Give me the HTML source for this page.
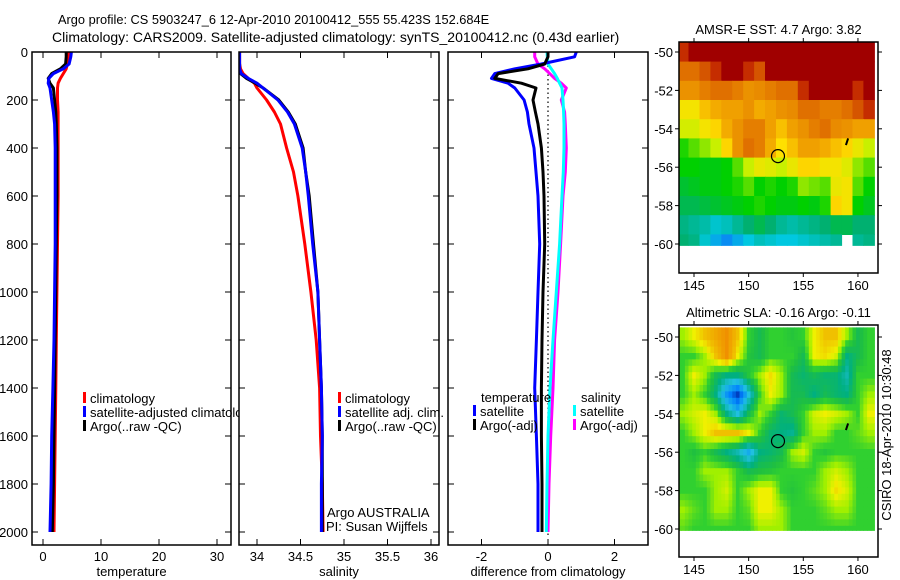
<!DOCTYPE html>
<html><head><meta charset="utf-8"><style>
html,body{margin:0;padding:0;background:#fff;}
svg{display:block;font-family:"Liberation Sans",sans-serif;}
</style></head><body>
<svg id="fig" width="900" height="580" viewBox="0 0 900 580">
<text x="58" y="24" font-size="12.8">Argo profile: CS 5903247_6 12-Apr-2010 20100412_555 55.423S 152.684E</text>
<text x="52" y="42" font-size="14">Climatology: CARS2009. Satellite-adjusted climatology: synTS_20100412.nc (0.43d earlier)</text>
<text transform="translate(891,435) rotate(-90)" font-size="13" text-anchor="middle">CSIRO 18-Apr-2010 10:30:48</text>
</svg>
<script>
// ---------- data ----------
const depths = [0,20,50,70,90,110,130,150,200,250,300,400,500,600,800,1000,1200,1400,1600,1800,2000];
const tempArgo = [4.0,4.0,3.9,3.0,1.5,0.9,1.2,1.8,2.0,2.2,2.3,2.4,2.4,2.4,2.3,2.2,2.1,2.0,1.9,1.8,1.6];
const tempSat  = [4.9,4.8,4.5,3.5,1.8,1.0,0.9,1.2,1.5,1.8,2.0,2.1,2.1,2.1,2.1,2.0,1.9,1.7,1.5,1.4,1.2];
const tempClim = [4.5,4.4,4.2,4.0,3.5,3.0,2.6,2.5,2.5,2.6,2.6,2.6,2.6,2.6,2.5,2.4,2.3,2.2,2.1,2.0,1.9];
const salArgo = [33.79,33.79,33.8,33.8,33.81,33.88,33.98,34.07,34.25,34.36,34.44,34.53,34.56,34.6,34.65,34.7,34.72,34.74,34.75,34.75,34.75];
const salSat  = [33.8,33.8,33.8,33.8,33.82,33.9,34.0,34.07,34.24,34.35,34.43,34.52,34.56,34.59,34.64,34.7,34.72,34.74,34.75,34.74,34.74];
const salClim = [33.8,33.8,33.8,33.81,33.84,33.9,33.97,34.0,34.11,34.2,34.27,34.34,34.42,34.47,34.55,34.62,34.68,34.72,34.73,34.75,34.76];
const dTempSat  = [0.85,0.8,-0.2,-1.0,-1.6,-1.7,-1.2,-1.0,-0.72,-0.62,-0.57,-0.42,-0.36,-0.3,-0.25,-0.3,-0.35,-0.4,-0.35,-0.3,-0.3];
const dTempArgo = [0.0,0.0,-0.1,-0.6,-1.5,-1.6,-0.8,-0.36,-0.45,-0.38,-0.3,-0.2,-0.15,-0.12,-0.1,-0.15,-0.18,-0.2,-0.2,-0.18,-0.18];
const dSalSat  = [-0.03,-0.02,0.0,0.1,0.2,0.28,0.35,0.42,0.45,0.47,0.48,0.48,0.46,0.42,0.35,0.25,0.15,0.06,0.0,-0.03,-0.05];
const dSalArgo = [-0.4,-0.4,-0.3,-0.1,0.05,0.2,0.4,0.55,0.4,0.5,0.52,0.55,0.52,0.45,0.38,0.3,0.2,0.15,0.08,0.03,0.0];
const tempTicks = [0,10,20,30];
const salTicks = [34,34.5,35,35.5,36];
const diffTicks = [-2,0,2];
const depthTicks = [0,200,400,600,800,1000,1200,1400,1600,1800,2000];
const lonTicks = [145,150,155,160];
const latTicks = [-50,-52,-54,-56,-58,-60];
const mapLons = [144,145,146,147,148,149,150,151,152,153,154,155,156,157,158,159,160,161];
const mapLats = [-50,-51,-52,-53,-54,-55,-56,-57,-58,-59,-60];
const sst = [
[6.5,7,7,7,7,7,7,7,7,7,7,7,7,7,7,7,7,7],
[6,6,6.2,6.5,7,7,6.5,6.2,7,7,7,7,7,7,7,7,7,7],
[5.5,5.5,5.8,6,6,5.8,5.5,5.6,5.8,6,6,6.5,7,7,7,7,6.5,7],
[4.6,4.6,5,5.2,5.3,5.3,5.5,5.2,5.3,5.5,5.6,6,6,5.8,5.8,6,6.2,6.5],
[4.3,4.3,4.6,4.8,5.2,5.5,5.8,5.8,5.3,5,5.3,5.5,5.8,6,5.6,5.5,5.3,5.3],
[3.6,3.8,4,4.2,4.8,5.5,6,5.8,5.2,4.7,5,5.3,5.3,5.2,5,4.8,4.5,4.2],
[3.5,3.5,3.4,3.4,3.5,3.8,4.2,4.5,4.4,4.2,4.5,4.8,4.8,4.6,4.6,4.4,4,3.8],
[3.2,3.3,3.4,3.4,3.5,3.6,3.8,3.5,3.6,3.5,3.6,4,3.9,3.8,4.5,4.6,3.8,3.5],
[3,3,3.1,3.2,3.3,3.4,3.5,3.6,3.5,3.4,3.4,3.5,3.4,3.6,4.8,4.6,3.5,3.3],
[2.7,2.6,2.5,2.3,2.4,2.6,2.8,3,2.8,2.6,2.5,2.6,2.7,2.8,3,3,2.8,2.8],
[2.8,2.7,2.3,2,1.8,2,2.2,2.4,2.3,2.2,2.2,2.3,2.4,2.5,2.6,null,2.6,2.7]];
const sla = [
[0.05,0.1,0.15,0.2,0.25,0.15,0,-0.05,0,0,-0.02,0,0.1,0.15,0.15,0.05,-0.05,0],
[0,0,0.05,0.15,0.25,0.1,-0.02,-0.05,0,0,0,-0.05,0.1,0.12,0.08,-0.1,-0.05,0],
[0,0.1,0.05,-0.05,-0.1,-0.1,-0.02,0.05,0.12,0.05,-0.05,-0.08,-0.05,-0.08,-0.08,-0.15,0,0],
[0,0.05,0,-0.1,-0.3,-0.45,-0.2,0,0.1,0.05,-0.05,-0.05,-0.1,-0.05,-0.08,-0.1,0,0.05],
[0.05,0.08,0.1,0.05,-0.1,-0.2,-0.05,0.05,0,-0.08,-0.05,0,0.08,0.1,0.08,0.05,0,0.1],
[0,0.05,0.1,0.15,0.15,0.15,0.1,0,-0.08,-0.1,-0.12,0,0.05,0.05,0,0,0.02,0.05],
[0,-0.03,0,-0.05,-0.1,-0.15,-0.25,-0.1,-0.08,-0.05,0.05,0.08,0,-0.02,0,0,0,0],
[0,0,0.05,0.05,0.05,0,-0.05,-0.03,-0.02,0,0,0,0,0.05,0.08,0.05,0,0],
[0,0,0,0.05,0.08,0,0.05,0.1,0.1,0,-0.02,0,0.02,0.05,0.12,0.08,0,0],
[0.05,0.02,0,0.05,0.05,0,0.02,0.1,0.1,0.05,0,0,0,0.02,0.05,0.05,0,0],
[0.02,0,0,0,0,0,0,0.05,0.05,0.05,0,0,0,0,0,0,0,0]];
const argoLon = 152.684, argoLat = -55.423;

// ---------- helpers ----------
const NS = "http://www.w3.org/2000/svg";
const svg = document.getElementById('fig');
function mk(tag, attrs, parent){ const e=document.createElementNS(NS,tag); for(const k in attrs) e.setAttribute(k,attrs[k]); (parent||svg).appendChild(e); return e; }
function txt(x,y,s,attrs,parent){ const t=mk('text',Object.assign({x:x,y:y,'font-size':13},attrs||{}),parent); t.textContent=s; return t; }
const yD = d => 52 + d*0.24;
const PTOP=52, PBOT=545;

function panel(name, x0, x1){
  const g = mk('g',{});
  
  
  mk('rect',{x:x0,y:PTOP,width:x1-x0,height:PBOT-PTOP,fill:'#fff',stroke:'none'},g);
  return g;
}
function frame(g,x0,x1,xfn,ticks,fmt,xlabel,showY){
  mk('rect',{x:x0,y:PTOP,width:x1-x0,height:PBOT-PTOP,fill:'none',stroke:'#000','stroke-width':1.5},g);
  ticks.forEach(v=>{
    const x=xfn(v);
    mk('line',{x1:x,y1:PBOT,x2:x,y2:PBOT-6,stroke:'#000'},g);
    mk('line',{x1:x,y1:PTOP,x2:x,y2:PTOP+6,stroke:'#000'},g);
    const t=txt(x,561,fmt(v),{'text-anchor':'middle'},g);
    
    
  });
  depthTicks.forEach(d=>{
    mk('line',{x1:x0,y1:yD(d),x2:x0+6,y2:yD(d),stroke:'#000'},g);
    mk('line',{x1:x1,y1:yD(d),x2:x1-6,y2:yD(d),stroke:'#000'},g);
    if(showY){ const t=txt(x0-4,yD(d)+5,String(d),{'text-anchor':'end'},g);
      
       }
  });
  const xl=txt((x0+x1)/2,576,xlabel,{'text-anchor':'middle'},g);
  
  
}
function prof(g, vals, xfn, color, name, clipId){
  const pts = vals.map((v,i)=>xfn(v).toFixed(1)+','+yD(depths[i]).toFixed(1)).join(' ');
  const p=mk('polyline',{points:pts,fill:'none',stroke:color,'stroke-width':3,'stroke-linejoin':'round','clip-path':'url(#'+clipId+')'},g);
  
  
}
function legend(g,x,y,color,label){
  mk('rect',{x:x,y:y-11,width:3,height:11,fill:color},g);
  const t=txt(x+7,y,label,{},g);
  
  
}
const defs = mk('defs',{});
function clip(id,x0,x1){ const c=mk('clipPath',{id:id},defs); mk('rect',{x:x0,y:PTOP,width:x1-x0,height:PBOT-PTOP},c); }

// ---------- temperature panel ----------
const xT = v => 43 + v*5.8;
clip('c1',32,231);
const g1 = panel('temperature-panel',32,231);
prof(g1,tempClim,xT,'#f00','temp-climatology-line','c1');
prof(g1,tempArgo,xT,'#000','temp-argo-line','c1');
prof(g1,tempSat,xT,'#00f','temp-satellite-line','c1');
legend(g1,83,403,'#f00','climatology');
legend(g1,83,417,'#00f','satellite-adjusted climatology');
legend(g1,83,431,'#000','Argo(..raw -QC)');
frame(g1,32,231,xT,tempTicks,v=>String(v),'temperature',true);

// ---------- salinity panel ----------
const xS = v => 257 + (v-34)*87;
clip('c2',239,439);
const g2 = panel('salinity-panel',239,439);
prof(g2,salClim,xS,'#f00','sal-climatology-line','c2');
prof(g2,salArgo,xS,'#000','sal-argo-line','c2');
prof(g2,salSat,xS,'#00f','sal-satellite-line','c2');
legend(g2,338,403,'#f00','climatology');
legend(g2,338,417,'#00f','satellite adj. clim.');
legend(g2,338,431,'#000','Argo(..raw -QC)');
const a1=txt(327,517,'Argo AUSTRALIA',{},g2);


const a2=txt(326,531,'PI: Susan Wijffels',{},g2);


frame(g2,239,439,xS,salTicks,v=>String(v),'salinity',false);

// ---------- difference panel ----------
const xDf = v => 548 + v*33.25;
clip('c3',448,648);
const g3 = panel('difference-panel',448,648);
mk('line',{x1:xDf(0),y1:PTOP,x2:xDf(0),y2:PBOT-10,stroke:'#000','stroke-dasharray':'1.5,3','stroke-width':1.2},g3);
prof(g3,dSalArgo,xDf,'#f0f','sal-diff-argo-line','c3');
prof(g3,dSalSat,xDf,'#0ff','sal-diff-satellite-line','c3');
prof(g3,dTempSat,xDf,'#00f','temp-diff-satellite-line','c3');
prof(g3,dTempArgo,xDf,'#000','temp-diff-argo-line','c3');
const lt=txt(481,402,'temperature',{},g3);


const ls=txt(581,402,'salinity',{},g3);


legend(g3,473,416,'#00f','satellite');
legend(g3,473,430,'#000','Argo(-adj)');
legend(g3,573,416,'#0ff','satellite');
legend(g3,573,430,'#f0f','Argo(-adj)');
frame(g3,448,648,xDf,diffTicks,v=>v<0?'-'+Math.abs(v):String(v),'difference from climatology',false);

// ---------- maps ----------
function interp(stops,v){
  if(v<=stops[0][0]) return 'rgb('+stops[0][1].join(',')+')';
  for(let i=1;i<stops.length;i++){ if(v<=stops[i][0]){ const a=stops[i-1],b=stops[i],t=(v-a[0])/(b[0]-a[0]);
    const ca=a[1],cb=b[1]; return 'rgb('+[0,1,2].map(k=>Math.round(ca[k]+(cb[k]-ca[k])*t)).join(',')+')'; } }
  const c=stops[stops.length-1][1]; return 'rgb('+c.join(',')+')';
}
const sstStops=[[1.5,[16,96,255]],[2.2,[0,200,224]],[2.8,[0,176,112]],[3.5,[0,208,0]],[4.2,[200,240,0]],[4.7,[255,224,0]],[5.3,[240,160,0]],[6,[224,112,0]],[6.6,[192,32,0]],[7,[160,0,0]]];
const slaStops=[[-0.5,[0,32,160]],[-0.35,[0,128,255]],[-0.2,[32,192,224]],[-0.1,[0,176,128]],[-0.03,[32,192,64]],[0,[48,208,48]],[0.05,[160,240,0]],[0.1,[240,240,0]],[0.15,[240,192,0]],[0.25,[240,144,0]]];
// bilinear sample of grid (display smoothing only)
function sample(grid,fi,fj){
  const ni=grid.length, nj=grid[0].length;
  fi=Math.max(0,Math.min(ni-1,fi)); fj=Math.max(0,Math.min(nj-1,fj));
  const i0=Math.floor(fi), j0=Math.floor(fj), i1=Math.min(ni-1,i0+1), j1=Math.min(nj-1,j0+1);
  const ti=fi-i0, tj=fj-j0;
  const g=(i,j)=>{const v=grid[i][j]; return v===null?0:v;};
  return (g(i0,j0)*(1-tj)+g(i0,j1)*tj)*(1-ti)+(g(i1,j0)*(1-tj)+g(i1,j1)*tj)*ti;
}
function map(name,top,bottom,latY0,grid,stops,title,smooth){
  const L=679,R=878;
  const xL = lon => 694 + (lon-145)*10.93;
  const yL = lat => latY0 + (-50-lat)*19.2;
  const g=mk('g',{});
  
  
  const cid=name+'-clip';
  const c=mk('clipPath',{id:cid},defs);
  mk('rect',{x:L,y:top,width:R-L,height:Math.min(bottom,yL(-60.1))-top},c);
  const cg=mk('g',{'clip-path':'url(#'+cid+')'},g);
  if(smooth){
    const n=3;
    grid.forEach((row,i)=>row.forEach((v,j)=>{
      for(let a=0;a<n;a++) for(let b=0;b<n;b++){
        const fi=i+(a+0.5)/n-0.5, fj=j+(b+0.5)/n-0.5;
        const r=mk('rect',{x:(xL(mapLons[j]-0.5)+b*10.93/n).toFixed(1),y:(yL(mapLats[i]+0.5)+a*19.2/n).toFixed(1),width:(10.93/n+0.6).toFixed(2),height:(19.2/n+0.6).toFixed(2),fill:interp(stops,sample(grid,fi,fj))},cg);
        
        
      }
    }));
  } else {
    grid.forEach((row,i)=>row.forEach((v,j)=>{
      if(v===null) return;
      const r=mk('rect',{x:xL(mapLons[j]-0.5).toFixed(1),y:yL(mapLats[i]+0.5).toFixed(1),width:11.5,height:19.8,fill:interp(stops,v)},cg);
      
      
    }));
  }
  const m=mk('circle',{cx:xL(argoLon),cy:yL(argoLat),r:6.5,fill:'none',stroke:'#000','stroke-width':1.2},g);
  
  
  mk('line',{x1:xL(159.1),y1:yL(-54.5),x2:xL(158.9),y2:yL(-54.85),stroke:'#000','stroke-width':2},g);
  mk('rect',{x:L,y:top,width:R-L,height:bottom-top,fill:'none',stroke:'#000','stroke-width':1.5},g);
  lonTicks.forEach(v=>{ const x=xL(v);
    mk('line',{x1:x,y1:top,x2:x,y2:top-4,stroke:'#000'},g);
    mk('line',{x1:x,y1:bottom,x2:x,y2:bottom+4,stroke:'#000'},g);
    const t=txt(x,bottom+17,String(v),{'text-anchor':'middle'},g);
    
     });
  latTicks.forEach(v=>{ const y=yL(v);
    mk('line',{x1:L,y1:y,x2:L-4,y2:y,stroke:'#000'},g);
    mk('line',{x1:R,y1:y,x2:R+4,y2:y,stroke:'#000'},g);
    const t=txt(L-6,y+5,String(v),{'text-anchor':'end'},g);
    
     });
  const tt=txt((L+R)/2,top-8,title,{'text-anchor':'middle'},g);
  
  
}
map('sst-map',42,273,52,sst,sstStops,'AMSR-E SST: 4.7 Argo: 3.82',false);
map('sla-map',325,557,337,sla,slaStops,'Altimetric SLA: -0.16 Argo: -0.11',true);
</script>
</body></html>
